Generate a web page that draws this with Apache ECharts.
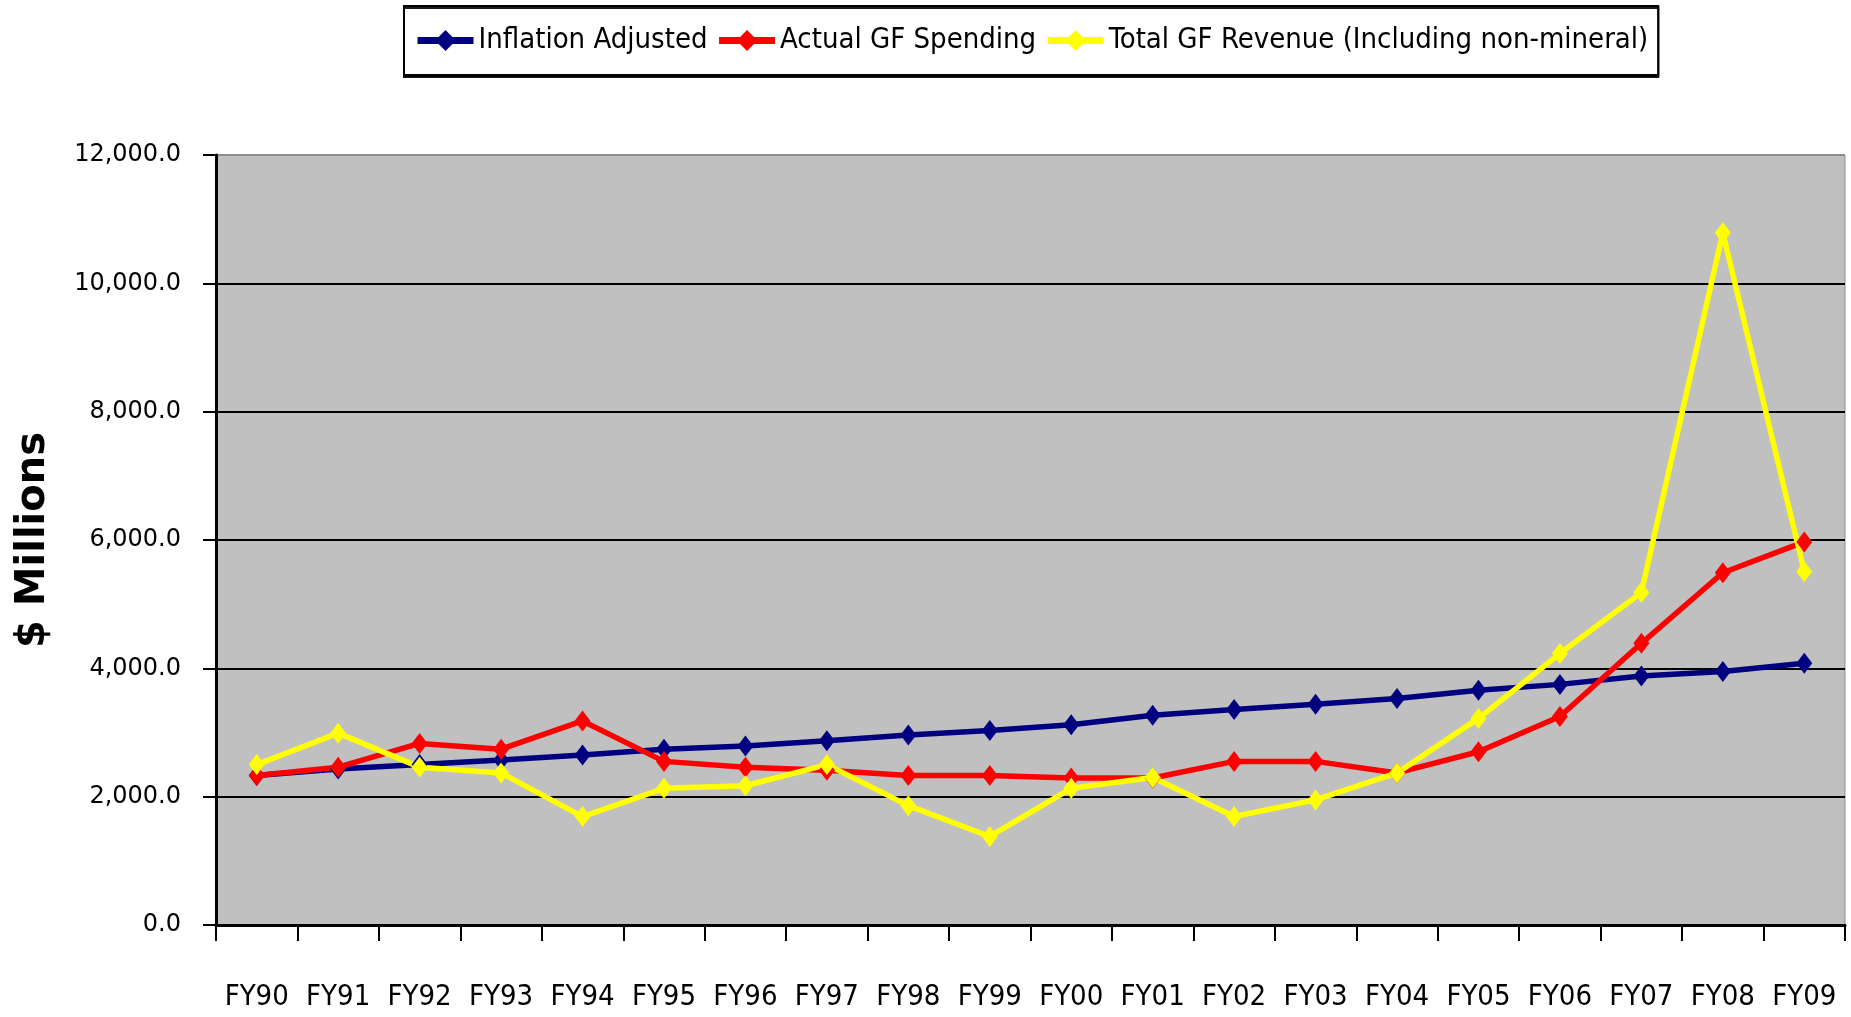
<!DOCTYPE html>
<html>
<head>
<meta charset="utf-8">
<script src="https://cdn.jsdelivr.net/npm/echarts@6/dist/echarts.min.js"></script>
<style>
  html, body { margin: 0; padding: 0; background: #fff; }
  #main { width: 1851px; height: 1017px; }
</style>
</head>
<body>
<div id="main"></div>
<script>
// fiscal years
var years = ['FY90', 'FY91', 'FY92', 'FY93', 'FY94', 'FY95', 'FY96', 'FY97', 'FY98', 'FY99',
             'FY00', 'FY01', 'FY02', 'FY03', 'FY04', 'FY05', 'FY06', 'FY07', 'FY08', 'FY09'];

// $ millions
var inflationAdjusted = [2330, 2430, 2500, 2570, 2650, 2740, 2790, 2870, 2960, 3030,
                         3120, 3270, 3360, 3440, 3530, 3660, 3750, 3880, 3950, 4080];
var actualSpending = [2330, 2460, 2830, 2740, 3180, 2550, 2460, 2410, 2330, 2330,
                      2290, 2290, 2550, 2550, 2370, 2700, 3250, 4390, 5490, 5970];
var totalRevenue = [2500, 2990, 2460, 2370, 1690, 2130, 2170, 2500, 1860, 1380,
                    2130, 2300, 1690, 1950, 2370, 3220, 4230, 5180, 10790, 5510];

var narrow = '"DejaVu Sans Condensed", "Liberation Sans Narrow", "DejaVu Sans", sans-serif';

function lineSeries(name, data, color) {
    return {
        name: name,
        type: 'line',
        data: data,
        symbol: 'diamond',
        symbolSize: [16, 21],
        lineStyle: { color: color, width: 5.5 },
        itemStyle: { color: color },
        animation: false
    };
}

var chart = echarts.init(document.getElementById('main'));

chart.setOption({
    backgroundColor: '#ffffff',
    legend: {
        left: 404,
        top: 6,
        padding: [20, 10, 20, 10],
        itemGap: 8,
        itemWidth: 56,
        itemHeight: 26,
        backgroundColor: '#ffffff',
        borderColor: '#000000',
        borderWidth: 2,
        shadowColor: 'rgba(0,0,0,0.9)',
        shadowOffsetY: 2,
        lineStyle: { width: 7 },
        textStyle: { fontFamily: narrow, fontSize: 29, color: '#000' },
        data: ['Inflation Adjusted', 'Actual GF Spending', 'Total GF Revenue (Including non-mineral)']
    },
    grid: {
        left: 216,
        right: 6,
        top: 155,
        bottom: 92,
        show: true,
        backgroundColor: '#C0C0C0',
        borderColor: '#8c8c8c',
        borderWidth: 1
    },
    xAxis: {
        type: 'category',
        data: years,
        boundaryGap: true,
        axisLine: { lineStyle: { color: '#000', width: 3 } },
        axisTick: { show: true, length: 16, inside: false, interval: 0, lineStyle: { color: '#000', width: 2 } },
        axisLabel: { interval: 0, fontFamily: narrow, fontSize: 29, color: '#000', margin: 58 },
        splitLine: { show: false }
    },
    yAxis: {
        type: 'value',
        min: 0,
        max: 12000,
        interval: 2000,
        name: '$ Millions',
        nameLocation: 'middle',
        nameGap: 162,
        nameRotate: 90,
        nameTextStyle: { fontFamily: 'DejaVu Sans', fontWeight: 'bold', fontSize: 40, color: '#000' },
        axisLine: { show: true, lineStyle: { color: '#000', width: 3 } },
        axisTick: { show: true, length: 13, lineStyle: { color: '#000', width: 2 } },
        axisLabel: {
            fontFamily: 'DejaVu Sans',
            fontSize: 24,
            color: '#000',
            margin: 35,
            formatter: function (v) {
                return v.toLocaleString('en-US', { minimumFractionDigits: 1, maximumFractionDigits: 1 });
            }
        },
        splitLine: {
            show: true,
            lineStyle: {
                color: ['#000', '#000', '#000', '#000', '#000', '#000', '#8c8c8c'],
                width: 2
            }
        }
    },
    series: [
        lineSeries('Inflation Adjusted', inflationAdjusted, '#000080'),
        lineSeries('Actual GF Spending', actualSpending, '#FF0000'),
        lineSeries('Total GF Revenue (Including non-mineral)', totalRevenue, '#FFFF00')
    ]
});
</script>
</body>
</html>
